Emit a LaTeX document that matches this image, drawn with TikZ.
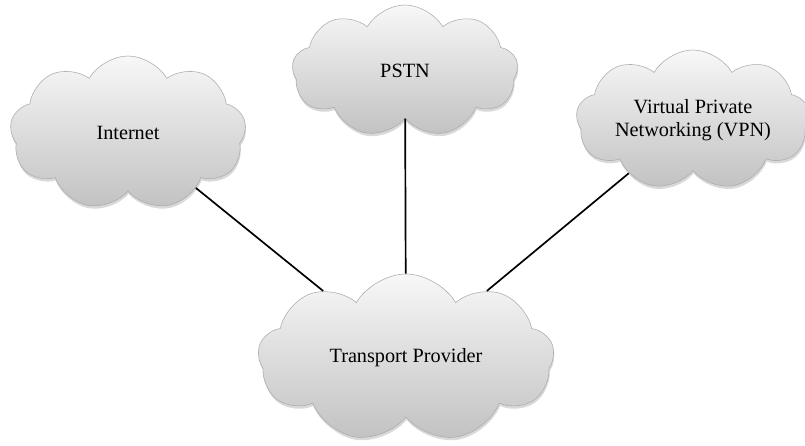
\documentclass[tikz,border=0pt]{standalone}
\usepackage{fontspec}
\setmainfont{Liberation Serif}
\usetikzlibrary{shapes.symbols, shadows}

\begin{document}
\begin{tikzpicture}[x=0.025cm, y=-0.025cm]
                \tikzset{
                    netcloud/.style={cloud, cloud puffs=9, cloud puff arc=120, cloud ignores aspect,
                        draw=gray!65, top color=gray!6, bottom color=gray!48,
                        drop shadow={opacity=0.3, shadow xshift=0.5pt, shadow yshift=-2pt},
                        align=center, font=\fontsize{14.4}{16.5}\selectfont},
                    link/.style={line width=1.2pt, black}
                }
                \useasboundingbox (0,0) rectangle (805,446);
                \node[netcloud, minimum width=5.9cm, minimum height=3.85cm] (inet) at (128,133) {Internet};
                \node[netcloud, minimum width=5.65cm, minimum height=3.3cm] (pstn) at (405,71) {PSTN};
                \node[netcloud, minimum width=5.5cm, minimum height=3.5cm]  (vpn) at (693,120) {Virtual Private\\Networking (VPN)};
                \node[netcloud, minimum width=7.4cm, minimum height=4.2cm]  (transport) at (406,358) {Transport Provider};
                \draw[link] (inet) -- (transport);
                \draw[link] (pstn) -- (transport);
                \draw[link] (vpn) -- (transport);
            \end{tikzpicture}
\end{document}
